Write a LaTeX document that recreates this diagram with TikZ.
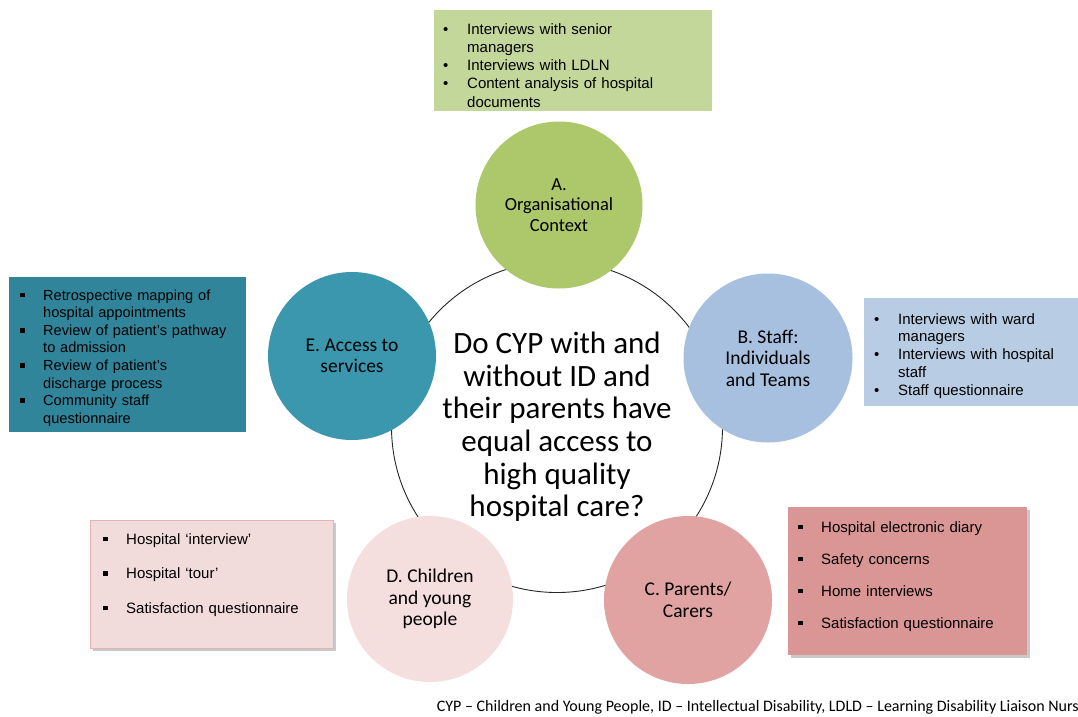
\documentclass[tikz,border=0pt]{standalone}
\usepackage{fontspec}
\setmainfont{Carlito}
\newfontfamily\arialf{Liberation Sans}
\usetikzlibrary{shadows}
\definecolor{cA}{RGB}{172,200,106}
\definecolor{bA}{RGB}{196,215,155}
\definecolor{cB}{RGB}{167,192,224}
\definecolor{bB}{RGB}{184,204,228}
\definecolor{cC}{RGB}{224,163,162}
\definecolor{bC}{RGB}{217,150,148}
\definecolor{cD}{RGB}{244,222,222}
\definecolor{bD}{RGB}{242,220,219}
\definecolor{lD}{RGB}{228,180,179}
\definecolor{cE}{RGB}{58,151,174}
\definecolor{bE}{RGB}{49,133,155}
\newcommand{\dotb}{\makebox[24pt][l]{\textbullet}}
\newcommand{\sqb}{\makebox[23pt][l]{\raisebox{2.6pt}{\rule{4.6pt}{4.6pt}}}}
\newcommand{\indb}{\hspace*{24pt}}
\newcommand{\indq}{\hspace*{23pt}}
\begin{document}
\begin{tikzpicture}[x=1pt,y=-1pt,
  topic/.style={circle,inner sep=0pt,minimum size=167pt,align=center,
    font=\fontsize{19.5}{21.5}\selectfont},
  infobox/.style={anchor=north west,inner sep=0pt,draw=none},
  pinkshadow/.style={drop shadow={shadow xshift=2.5pt,shadow yshift=-2.5pt,opacity=0.35,fill=black!60}},
  boxtext/.style={anchor=base west,inner sep=0pt,text width=300pt,align=left}]
\useasboundingbox (0,0) rectangle (1078,716);
\fill[white] (0,0) rectangle (1078,716);
% hub
\node[circle,draw=black!85,line width=0.9pt,minimum size=331pt,inner sep=0pt,align=center,
  font=\fontsize{31}{32.6}\selectfont] (hub) at (557,427)
  {Do CYP with and\\without ID and\\their parents have\\equal access to\\high quality\\hospital care?};
% topic circles
\node[topic,fill=cA,font=\fontsize{18.5}{20.3}\selectfont] (A) at (559,205) {A.\\Organisational\\Context};
\node[topic,fill=cB,minimum size=169pt] (B) at (768,358) {B. Staff:\\Individuals\\and Teams};
\node[topic,fill=cC,minimum size=168pt] (C) at (688,600) {C. Parents/\\Carers};
\node[topic,fill=cD,minimum size=166pt] (D) at (430,599) {D. Children\\and young\\people};
\node[topic,fill=cE,minimum size=168pt] (E) at (352,356) {E. Access to\\services};
% boxes
\node[infobox,fill=bA,minimum width=278pt,minimum height=101pt] (boxA) at (434,10) {};
\node[boxtext,font=\arialf\fontsize{15}{18.3}\selectfont] (txtA) at (443,34)
  {\dotb Interviews with senior\\\indb managers\\\dotb Interviews with LDLN\\\dotb Content analysis of hospital\\\indb documents};
\node[infobox,fill=bE,minimum width=237pt,minimum height=155pt] (boxE) at (9,277) {};
\node[boxtext,font=\arialf\fontsize{14.6}{17.6}\selectfont] (txtE) at (20,300)
  {\sqb Retrospective mapping of\\\indq hospital appointments\\\sqb Review of patient’s pathway\\\indq to admission\\\sqb Review of patient’s\\\indq discharge process\\\sqb Community staff\\\indq questionnaire};
\node[infobox,fill=bB,minimum width=214pt,minimum height=108pt] (boxB) at (864,298) {};
\node[boxtext,font=\arialf\fontsize{15}{17.8}\selectfont] (txtB) at (874,324)
  {\dotb Interviews with ward\\\indb managers\\\dotb Interviews with hospital\\\indb staff\\\dotb Staff questionnaire};
\node[infobox,fill=bD,draw=lD,line width=0.8pt,minimum width=243pt,minimum height=128pt,pinkshadow] (boxD) at (90,520) {};
\node[boxtext,font=\arialf\fontsize{15}{34.5}\selectfont] (txtD) at (103,544)
  {\sqb Hospital ‘interview’\\\sqb Hospital ‘tour’\\\sqb Satisfaction questionnaire};
\node[infobox,fill=bC,minimum width=239pt,minimum height=148pt,pinkshadow] (boxC) at (788,507) {};
\node[boxtext,font=\arialf\fontsize{15}{32}\selectfont] (txtC) at (798,532)
  {\sqb Hospital electronic diary\\\sqb Safety concerns\\\sqb Home interviews\\\sqb Satisfaction questionnaire};
% footer
\node[anchor=base east,inner sep=0pt,font=\fontsize{16}{18}\selectfont] (foot) at (1079,711)
  {CYP – Children and Young People, ID – Intellectual Disability, LDLD – Learning Disability Liaison Nurs};
\end{tikzpicture}
\end{document}
